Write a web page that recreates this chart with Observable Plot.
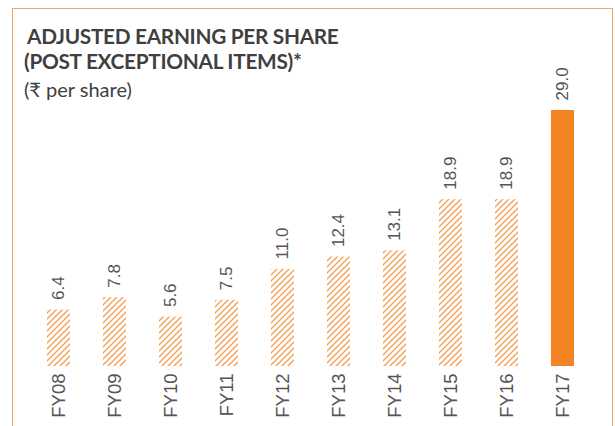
<!DOCTYPE html>
<html>
<head>
<meta charset="utf-8">
<script src="https://cdn.jsdelivr.net/npm/d3@7"></script>
<script src="https://cdn.jsdelivr.net/npm/@observablehq/plot@0.6"></script>
<style>
  html, body { margin: 0; padding: 0; background: #fff; }
  body { position: relative; width: 615px; height: 426px; overflow: hidden; font-family: Lato, "Noto Sans", sans-serif; }
  #frame { position: absolute; left: 12px; top: 8px; width: 601px; height: 440px; border: 1.5px solid #f7a45e; border-bottom: none; box-sizing: border-box; }
  #title { position: absolute; left: 24px; top: 23px; font-weight: 700; font-size: 20.8px; line-height: 25px; color: #3f3f3f; letter-spacing: -0.3px; white-space: pre; text-indent: 3px; }
  #subtitle { position: absolute; left: 24px; top: 77px; font-size: 20px; color: #3f3f3f; }
  #chart { position: absolute; left: 0; top: 0; }
</style>
</head>
<body>
<div id="frame"></div>
<div id="title">ADJUSTED EARNING PER SHARE
(POST EXCEPTIONAL ITEMS)*</div>
<div id="subtitle">(₹ per share)</div>
<div id="chart"></div>
<script>
const years = ["FY08","FY09","FY10","FY11","FY12","FY13","FY14","FY15","FY16","FY17"];
const eps = [6.4, 7.8, 5.6, 7.5, 11.0, 12.4, 13.1, 18.9, 18.9, 29.0];
const highlighted = ["FY17"];

const data = years.map((y, i) => ({year: y, value: eps[i], solid: highlighted.includes(y)}));

const svg = Plot.plot({
  width: 615,
  height: 426,
  marginTop: 110,
  marginBottom: 60,
  marginLeft: 13,
  marginRight: 8,
  style: {fontFamily: "'Liberation Sans', Arial, sans-serif", color: "#555", background: "transparent"},
  x: {domain: years, padding: 0.59, label: null},
  y: {domain: [0, 29], axis: null},
  marks: [
    Plot.barY(data.filter(d => !d.solid), {x: "year", y: "value", fill: "url(#hatch)"}),
    Plot.barY(data.filter(d => d.solid), {x: "year", y: "value", fill: "#f48423"}),
    Plot.text(data, {x: "year", y: "value", text: d => d.value.toFixed(1), rotate: -90, textAnchor: "start", dy: -10, fontSize: 17, fill: "#555"}),
    Plot.axisX({tickRotate: -90, tickSize: 0, tickPadding: 7, fontSize: 18.5, fill: "#555", label: null})
  ]
});

const defs = d3.select(svg).insert("defs", ":first-child");
const pat = defs.append("pattern")
  .attr("id", "hatch")
  .attr("patternUnits", "userSpaceOnUse")
  .attr("width", 6).attr("height", 6);
pat.append("path")
  .attr("d", "M0,6 L6,0 M-1.5,1.5 L1.5,-1.5 M4.5,7.5 L7.5,4.5")
  .attr("stroke", "#f5a052")
  .attr("stroke-width", 1.4)
  .attr("fill", "none");

document.getElementById("chart").appendChild(svg);
</script>
</body>
</html>
